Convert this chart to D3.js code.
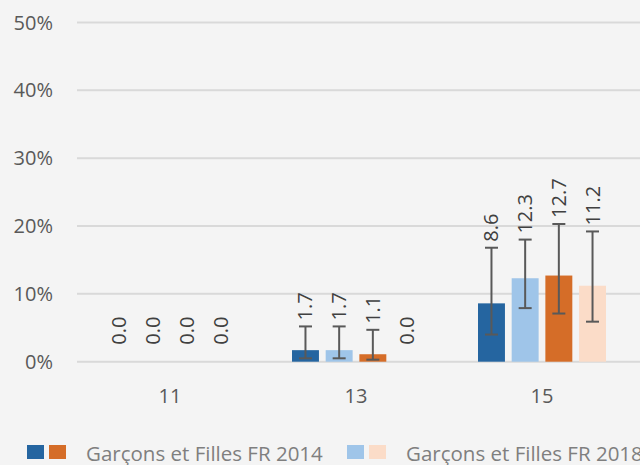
<!DOCTYPE html>
<html>
<head>
<meta charset="utf-8">
<script src="https://cdn.jsdelivr.net/npm/d3@7"></script>
<style>
  html, body { margin: 0; padding: 0; background: #f4f4f4; }
  svg { display: block; font-family: "Open Sans", sans-serif; }
</style>
</head>
<body>
<div id="chart"></div>
<script>
// Age groups on the x axis
const categories = ['11', '13', '15'];

// Series: 2014 blue, 2018 light blue, 2014 orange, 2018 peach
const seriesNames = ['s2014a', 's2018a', 's2014b', 's2018b'];
const seriesColors = ['#2565a0', '#9fc5e9', '#d56d28', '#fbdcc8'];

// Percent values per category (rows) and series (columns)
const values = [
    [0.0, 0.0, 0.0, 0.0],
    [1.7, 1.7, 1.1, 0.0],
    [8.6, 12.3, 12.7, 11.2]
];

// Confidence interval low / high, null where no error bar is drawn
const errLow = [
    [null, null, null, null],
    [0.5, 0.5, 0.3, null],
    [4.0, 7.9, 7.1, 5.9]
];
const errHigh = [
    [null, null, null, null],
    [5.2, 5.2, 4.7, null],
    [16.8, 18.0, 20.3, 19.2]
];

const yTicks = [0, 10, 20, 30, 40, 50];

const legendItems = [
    { label: 'Garçons et Filles FR 2014', colors: [seriesColors[0], seriesColors[2]] },
    { label: 'Garçons et Filles FR 2018', colors: [seriesColors[1], seriesColors[3]] }
];

const width = 640, height = 465;

const svg = d3.select('#chart')
    .append('svg')
    .attr('width', width)
    .attr('height', height);

svg.append('rect')
    .attr('width', width)
    .attr('height', height)
    .attr('fill', '#f4f4f4');

// Scales
const x = d3.scaleBand()
    .domain(categories)
    .range([77, 635])
    .paddingInner(0)
    .paddingOuter(0);

const xInner = d3.scaleBand()
    .domain(seriesNames)
    .range([29, 29 + 128])
    .paddingInner(0.2);

const y = d3.scaleLinear()
    .domain([0, 50])
    .range([361.7, 22.5]);

// Gridlines
svg.append('g')
    .selectAll('line')
    .data(yTicks)
    .join('line')
    .attr('x1', 77)
    .attr('x2', 640)
    .attr('y1', d => y(d))
    .attr('y2', d => y(d))
    .attr('stroke', '#d9d9d9')
    .attr('stroke-width', 2);

// Y axis labels
svg.append('g')
    .selectAll('text')
    .data(yTicks)
    .join('text')
    .attr('x', 53)
    .attr('y', d => y(d))
    .attr('dy', '0.35em')
    .attr('text-anchor', 'end')
    .attr('font-size', 20)
    .attr('fill', '#595959')
    .text(d => d + '%');

// X axis labels
svg.append('g')
    .selectAll('text')
    .data(categories)
    .join('text')
    .attr('x', d => x(d) + x.bandwidth() / 2)
    .attr('y', 403)
    .attr('text-anchor', 'middle')
    .attr('font-size', 20)
    .attr('fill', '#595959')
    .text(d => d);

// Flatten into cells
const cells = [];
categories.forEach((c, i) => {
    seriesNames.forEach((s, j) => {
        cells.push({
            cat: c, series: s, color: seriesColors[j],
            value: values[i][j], lo: errLow[i][j], hi: errHigh[i][j]
        });
    });
});

const cx = d => x(d.cat) + xInner(d.series) + xInner.bandwidth() / 2;

// Bars
svg.append('g')
    .selectAll('rect')
    .data(cells.filter(d => d.value > 0))
    .join('rect')
    .attr('x', d => x(d.cat) + xInner(d.series))
    .attr('width', xInner.bandwidth())
    .attr('y', d => y(d.value))
    .attr('height', d => y(0) - y(d.value))
    .attr('fill', d => d.color);

// Error bars
const errG = svg.append('g')
    .attr('stroke', '#595959')
    .attr('stroke-width', 2);

const withErr = cells.filter(d => d.hi != null);

errG.selectAll('line.v')
    .data(withErr)
    .join('line')
    .attr('class', 'v')
    .attr('x1', cx).attr('x2', cx)
    .attr('y1', d => y(d.lo))
    .attr('y2', d => y(d.hi));

errG.selectAll('line.top')
    .data(withErr)
    .join('line')
    .attr('class', 'top')
    .attr('x1', d => cx(d) - 6.5).attr('x2', d => cx(d) + 6.5)
    .attr('y1', d => y(d.hi)).attr('y2', d => y(d.hi));

errG.selectAll('line.bot')
    .data(withErr)
    .join('line')
    .attr('class', 'bot')
    .attr('x1', d => cx(d) - 6.5).attr('x2', d => cx(d) + 6.5)
    .attr('y1', d => y(d.lo)).attr('y2', d => y(d.lo));

// Rotated value labels
svg.append('g')
    .selectAll('text')
    .data(cells)
    .join('text')
    .attr('transform', d => {
        const ly = d.hi != null ? y(d.hi) - 6 : y(0) - 17;
        return `translate(${cx(d)},${ly}) rotate(-90)`;
    })
    .attr('dy', '0.35em')
    .attr('text-anchor', 'start')
    .attr('font-size', 20)
    .attr('fill', '#404040')
    .text(d => d.value.toFixed(1));

// Legend
const legendX = [27, 347];
const legend = svg.append('g')
    .selectAll('g')
    .data(legendItems)
    .join('g')
    .attr('transform', (d, i) => `translate(${legendX[i]},445)`);

legend.selectAll('rect')
    .data(d => d.colors)
    .join('rect')
    .attr('x', (d, i) => i * 22)
    .attr('y', 0)
    .attr('width', 17)
    .attr('height', 14)
    .attr('fill', d => d);

legend.append('text')
    .attr('x', 59)
    .attr('y', 16)
    .attr('font-size', 20.5)
    .attr('fill', '#7f7f7f')
    .text(d => d.label);
</script>
</body>
</html>
